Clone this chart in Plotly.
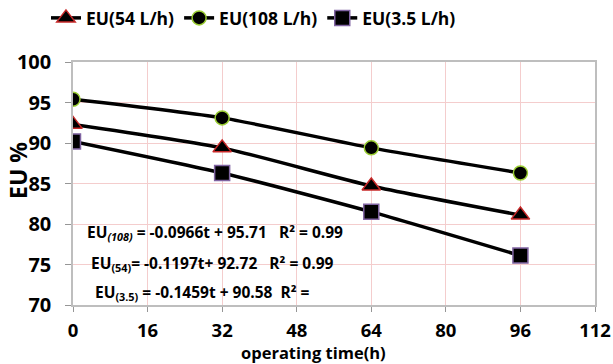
import plotly.graph_objects as go

time_h = [0, 32, 64, 96]
eu_54 = [92.3, 89.4, 84.7, 81.1]
eu_108 = [95.4, 93.1, 89.4, 86.3]
eu_35 = [90.2, 86.3, 81.5, 76.1]

x_ticks = [0, 16, 32, 48, 64, 80, 96, 112]
y_ticks = [70, 75, 80, 85, 90, 95, 100]

FONT = "Open Sans"
GRID = "rgb(244,205,205)"

fig = go.Figure()
series = [
    ("EU(54 L/h)", eu_54, "triangle-up", 16, "rgb(200,40,40)"),
    ("EU(108 L/h)", eu_108, "circle", 14, "rgb(154,205,50)"),
    ("EU(3.5 L/h)", eu_35, "square", 15, "rgb(128,100,162)"),
]
for name, ys, sym, size, edge in series:
    fig.add_trace(go.Scatter(
        x=time_h, y=ys, name=name, mode="lines+markers",
        line=dict(color="black", width=3.5, shape="spline", smoothing=0.6),
        marker=dict(symbol=sym, size=size, color="black",
                    line=dict(color=edge, width=1.5)),
    ))

# white box behind the equations
fig.add_shape(type="rect", xref="x", yref="y", x0=0.3, x1=59, y0=70.2, y1=81.5,
              fillcolor="white", line=dict(width=0), layer="below")

W, H = 613, 364
L, R, T, B = 73, 18, 62, 59
PW, PH = W - L - R, H - T - B


def px2paper(px, py):
    return (px - L) / PW, 1 - (py - T) / PH


eqs = [
    ("EU<sub><i>(108)</i></sub> = -0.0966t + 95.71   R² = 0.99", 85, 232),
    ("EU<sub>(54)</sub>= -0.1197t+ 92.72   R² = 0.99", 89, 263),
    ("EU<sub>(3.5)</sub> = -0.1459t + 90.58  R² =", 93, 292),
]
for txt, px, py in eqs:
    ax_, ay_ = px2paper(px, py)
    fig.add_annotation(
        text=txt, xref="paper", yref="paper", x=ax_, y=ay_,
        xanchor="left", yanchor="middle", showarrow=False,
        font=dict(family=FONT, size=15.5, color="black", weight="bold"),
    )

# axis titles
tx, ty = px2paper(313, 352.5)
fig.add_annotation(text="operating time(h)", xref="paper", yref="paper", x=tx, y=ty,
                   xanchor="center", yanchor="middle", showarrow=False,
                   font=dict(family=FONT, size=16.5, color="black", weight="bold"))
tx, ty = px2paper(18, 171)
fig.add_annotation(text="EU %", xref="paper", yref="paper", x=tx, y=ty, textangle=-90,
                   xanchor="center", yanchor="middle", showarrow=False,
                   font=dict(family=FONT, size=23, color="black", weight="bold"))

fig.update_layout(
    width=W, height=H,
    margin=dict(l=L, r=R, t=T, b=B),
    paper_bgcolor="white", plot_bgcolor="white",
    font=dict(family=FONT, color="black"),
    showlegend=True,
    legend=dict(orientation="h", x=0.075, xref="container", y=1.0, yref="container",
                xanchor="left", yanchor="top",
                font=dict(family=FONT, size=17.5, weight="bold"),
                tracegroupgap=0, itemsizing="trace"),
    xaxis=dict(range=[0, 112], tickvals=x_ticks, showgrid=True, gridcolor=GRID,
               gridwidth=1, showline=True, linecolor="rgb(190,190,190)", linewidth=1.5,
               mirror=True, ticks="outside", ticklen=5, tickcolor="rgb(150,150,150)",
               ticklabelstandoff=3, automargin=False,
               tickfont=dict(family=FONT, size=18.5, weight="bold"),
               zeroline=False),
    yaxis=dict(range=[70, 100], tickvals=y_ticks, showgrid=True, gridcolor=GRID,
               gridwidth=1, showline=True, linecolor="rgb(190,190,190)", linewidth=1.5,
               mirror=True, ticks="outside", ticklen=6, tickcolor="rgb(150,150,150)",
               ticklabelstandoff=10, automargin=False,
               tickfont=dict(family=FONT, size=20, weight="bold"),
               zeroline=False),
)

fig.write_html("out.html")
